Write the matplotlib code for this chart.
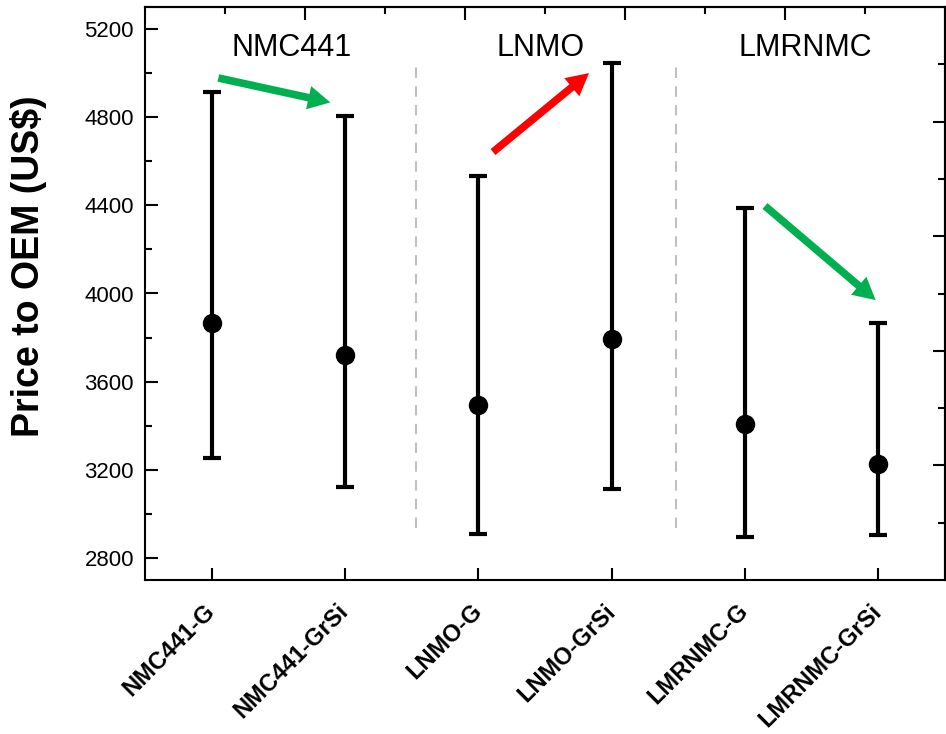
import matplotlib
matplotlib.use("Agg")
import matplotlib.pyplot as plt
from matplotlib.ticker import MultipleLocator, FixedLocator, NullFormatter

plt.rcParams['font.family'] = ['Liberation Sans', 'DejaVu Sans']

categories = ["NMC441-G", "NMC441-GrSi", "LNMO-G", "LNMO-GrSi", "LMRNMC-G", "LMRNMC-GrSi"]
mean_price = [3866, 3721, 3494, 3793, 3408, 3226]
upper_price = [4914, 4805, 4533, 5046, 4388, 3866]
lower_price = [3253, 3122, 2908, 3113, 2895, 2904]
group_names = ["NMC441", "LNMO", "LMRNMC"]
group_label_x = [0.6, 2.47, 4.45]
divider_x = [1.53, 3.48]

# arrows: (x_tail, y_tail, x_head, y_head, color)
arrows = [
    (0.05, 4978, 0.89, 4867, "#00b050"),
    (2.11, 4642, 2.83, 5000, "#ff0000"),
    (4.15, 4397, 4.98, 3970, "#00b050"),
]

fig = plt.figure(figsize=(9.46, 7.34), dpi=100)
ax = fig.add_axes([145/946, 1 - 580/734, 800/946, 573/734])

x = list(range(len(categories)))
yerr_low = [m - l for m, l in zip(mean_price, lower_price)]
yerr_up = [u - m for m, u in zip(mean_price, upper_price)]
ax.errorbar(x, mean_price, yerr=[yerr_low, yerr_up], fmt='o', color='black',
            ecolor='black', elinewidth=3, capsize=6.5, capthick=3, markersize=13, zorder=3)

ax.set_xlim(-0.5, 5.5)
ax.set_ylim(2700, 5300)

for dx in divider_x:
    ax.plot([dx, dx], [2935, 5037], color='#c0c0c0', linestyle=(0, (5, 4)), linewidth=1.5, zorder=1)

for gx, name in zip(group_label_x, group_names):
    ax.text(gx, 5112, name, fontsize=22, ha='center', va='center')

for xt, yt, xh, yh, c in arrows:
    ax.annotate('', xy=(xh, yh), xytext=(xt, yt),
                arrowprops=dict(facecolor=c, edgecolor='none', width=5.5, headwidth=17,
                                headlength=16, shrink=0), zorder=4)

ax.set_xticks(x)
ax.set_xticklabels(categories, rotation=45, ha='right', va='center', rotation_mode='anchor',
                   fontsize=17, fontweight='bold')
ax.yaxis.set_major_locator(MultipleLocator(400))
ax.yaxis.set_minor_locator(MultipleLocator(200))
ax.tick_params(axis='y', labelsize=16)
ax.tick_params(which='major', direction='in', length=9, width=1.5)
ax.tick_params(which='minor', direction='in', length=5, width=1.5)
ax.tick_params(axis='x', pad=20)
ax.tick_params(axis='y', pad=8)
for s in ax.spines.values():
    s.set_linewidth(1.5)

ax.set_ylabel("Price to OEM (US$)", fontsize=27, fontweight='bold')
ax.yaxis.set_label_coords(-0.123, 0.548)

top = ax.secondary_xaxis('top', functions=(lambda v: (v + 0.5) / 6, lambda f: f * 6 - 0.5))
top.xaxis.set_major_locator(FixedLocator([0.2, 0.4, 0.6, 0.8]))
top.xaxis.set_minor_locator(FixedLocator([0.1, 0.3, 0.5, 0.7, 0.9]))
top.xaxis.set_major_formatter(NullFormatter())
top.tick_params(which='major', direction='in', length=9, width=1.5)
top.tick_params(which='minor', direction='in', length=5, width=1.5)
top.spines['top'].set_linewidth(1.5)

right = ax.secondary_yaxis('right', functions=(lambda v: (v - 2700) / 2600, lambda f: f * 2600 + 2700))
right.yaxis.set_major_locator(FixedLocator([0.2, 0.4, 0.6, 0.8]))
right.yaxis.set_minor_locator(FixedLocator([0.1, 0.3, 0.5, 0.7, 0.9]))
right.yaxis.set_major_formatter(NullFormatter())
right.tick_params(which='major', direction='in', length=9, width=1.5)
right.tick_params(which='minor', direction='in', length=5, width=1.5)
right.spines['right'].set_linewidth(1.5)

fig.savefig("out.png", dpi=100)
